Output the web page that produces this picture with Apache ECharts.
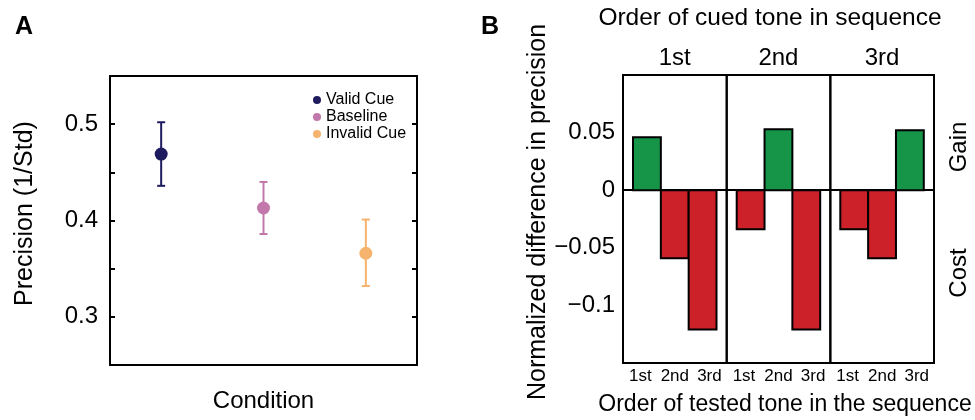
<!DOCTYPE html>
<html>
<head>
<meta charset="utf-8">
<script src="https://cdn.jsdelivr.net/npm/echarts@6/dist/echarts.min.js"></script>
<style>
  html, body { margin: 0; padding: 0; background: #fff; }
  #main { width: 975px; height: 420px; }
</style>
</head>
<body>
<div id="main"></div>
<script>
// panel A data
var conditions = ['Valid Cue', 'Baseline', 'Invalid Cue'];
var precisionMean = [0.469, 0.413, 0.366];
var precisionLow = [0.436, 0.386, 0.332];
var precisionHigh = [0.502, 0.440, 0.401];
var conditionColors = ['#1e1c5f', '#c378ab', '#f6b36d'];

// panel B data
var cuedOrder = ['1st', '2nd', '3rd'];
var testedOrder = ['1st', '2nd', '3rd'];
var diffCued1st = [0.046, -0.059, -0.121];
var diffCued2nd = [-0.034, 0.053, -0.121];
var diffCued3rd = [-0.034, -0.059, 0.052];
var diffByCued = [diffCued1st, diffCued2nd, diffCued3rd];

var FONT = 'Liberation Sans';
var GAIN = '#169448';
var COST = '#cc2128';
var LW = 2;

var myChart = echarts.init(document.getElementById('main'));

var panelLeft = [623, 726.7, 830.3];
var panelW = 103.7;

// grid 0 = A, 1..3 = B panels (frame), 4..6 = B bar areas
var grids = [{ left: 110, top: 76, width: 307, height: 289 }];
panelLeft.forEach(function (l) {
	grids.push({ left: l, top: 75, width: panelW, height: 288, show: true, borderColor: '#000', borderWidth: LW });
});
panelLeft.forEach(function (l) {
	grids.push({ left: l + 10, top: 75, width: 83.5, height: 288 });
});

var xAxes = [
	{
		type: 'category', gridIndex: 0, data: conditions,
		axisLine: { lineStyle: { color: '#000', width: LW } },
		axisTick: { inside: true, alignWithLabel: true, length: 6, lineStyle: { color: '#000', width: LW } },
		axisLabel: { show: false },
		name: 'Condition', nameLocation: 'middle', nameGap: 24,
		nameTextStyle: { fontSize: 24, color: '#000' }
	},
	{
		type: 'category', gridIndex: 0, data: conditions, position: 'top',
		axisLine: { lineStyle: { color: '#000', width: LW } },
		axisTick: { inside: true, alignWithLabel: true, length: 6, lineStyle: { color: '#000', width: LW } },
		axisLabel: { show: false }
	}
];
// tested tone labels under each panel (xAxis 2..4)
for (var i = 0; i < 3; i++) {
	xAxes.push({
		type: 'category', gridIndex: 1 + i, data: testedOrder, position: 'bottom',
		axisLine: { show: false, onZero: false }, axisTick: { show: false },
		axisLabel: { fontSize: 17, color: '#000', margin: 5, interval: 0 }
	});
}
// zero line of each panel (xAxis 5..7)
for (var i = 0; i < 3; i++) {
	xAxes.push({
		type: 'value', gridIndex: 1 + i, min: 0, max: 1, position: 'top',
		axisLine: { onZero: true, lineStyle: { color: '#000', width: LW } },
		axisTick: { show: false }, axisLabel: { show: false }, splitLine: { show: false }
	});
}
// bar axes (xAxis 8..10)
for (var i = 0; i < 3; i++) {
	xAxes.push({
		type: 'category', gridIndex: 4 + i, data: testedOrder, position: 'bottom',
		axisLine: { show: false, onZero: false }, axisTick: { show: false }, axisLabel: { show: false }
	});
}
// cued tone labels on top (xAxis 11..13)
for (var i = 0; i < 3; i++) {
	xAxes.push({
		type: 'category', gridIndex: 4 + i, data: [cuedOrder[i]], position: 'top',
		axisLine: { show: false, onZero: false }, axisTick: { show: false },
		axisLabel: { fontSize: 24, color: '#000', margin: 5 }
	});
}

var yAxes = [
	{
		type: 'value', gridIndex: 0, min: 0.25, max: 0.55, interval: 0.05,
		axisLine: { show: true, lineStyle: { color: '#000', width: LW } },
		axisTick: { show: true, inside: true, length: 5, lineStyle: { color: '#000', width: LW } },
		splitLine: { show: false },
		axisLabel: {
			fontSize: 24, color: '#000', margin: 12,
			formatter: function (v) {
				var k = Math.round(v * 100);
				return (k % 10 === 0 && k >= 30 && k <= 50) ? (k / 100).toFixed(1) : '';
			}
		},
		name: 'Precision (1/Std)', nameLocation: 'middle', nameRotate: 90, nameGap: 72,
		nameTextStyle: { fontSize: 25, color: '#000', padding: [0, 0, 0, 14] }
	},
	{
		type: 'value', gridIndex: 0, min: 0.25, max: 0.55, interval: 0.05, position: 'right',
		axisLine: { show: true, lineStyle: { color: '#000', width: LW } },
		axisTick: { show: true, inside: true, length: 5, lineStyle: { color: '#000', width: LW } },
		splitLine: { show: false }, axisLabel: { show: false }
	}
];
for (var i = 0; i < 3; i++) {
	yAxes.push({
		type: 'value', gridIndex: 1 + i, min: -0.15, max: 0.1, interval: 0.05,
		axisLine: { show: false }, axisTick: { show: false }, splitLine: { show: false },
		axisLabel: {
			show: i === 0, fontSize: 24, color: '#000', margin: 8,
			formatter: function (v) {
				var k = Math.round(v * 100);
				if (k < -10 || k > 5) return '';
				return String(k / 100).replace('-', '\u2212');
			}
		},
		name: i === 0 ? 'Normalized difference in precision' : '',
		nameLocation: 'middle', nameRotate: 90, nameGap: 72,
		nameTextStyle: { fontSize: 25, color: '#000', padding: [0, 0, 0, 14] }
	});
}
for (var i = 0; i < 3; i++) {
	yAxes.push({ type: 'value', gridIndex: 4 + i, min: -0.15, max: 0.1, show: false });
}

var series = [
	{
		type: 'custom', name: 'errorbar', xAxisIndex: 0, yAxisIndex: 0, z: 2,
		data: conditions.map(function (c, i) { return [i, precisionLow[i], precisionHigh[i]]; }),
		encode: { x: 0, y: [1, 2] },
		renderItem: function (params, api) {
			var x = api.value(0);
			var lo = api.coord([x, api.value(1)]);
			var hi = api.coord([x, api.value(2)]);
			var c = conditionColors[params.dataIndex];
			var st = { stroke: c, lineWidth: 2 };
			return {
				type: 'group',
				children: [
					{ type: 'line', shape: { x1: lo[0], y1: lo[1], x2: hi[0], y2: hi[1] }, style: st },
					{ type: 'line', shape: { x1: lo[0] - 4, y1: lo[1], x2: lo[0] + 4, y2: lo[1] }, style: st },
					{ type: 'line', shape: { x1: hi[0] - 4, y1: hi[1], x2: hi[0] + 4, y2: hi[1] }, style: st }
				]
			};
		}
	}
];
conditions.forEach(function (c, i) {
	series.push({
		type: 'scatter', name: c, xAxisIndex: 0, yAxisIndex: 0, z: 3,
		symbolSize: 13, itemStyle: { color: conditionColors[i], opacity: 1 },
		data: [[i, precisionMean[i]]]
	});
});
// bars: full band width, touching each other
diffByCued.forEach(function (vals, i) {
	series.push({
		type: 'custom', name: 'cued ' + cuedOrder[i], xAxisIndex: 8 + i, yAxisIndex: 5 + i, z: 3,
		data: vals.map(function (v, j) { return [j, v]; }),
		encode: { x: 0, y: 1 },
		renderItem: function (params, api) {
			var x = api.value(0), v = api.value(1);
			var base = api.coord([x, 0]);
			var end = api.coord([x, v]);
			var w = api.size([1, 0])[0];
			return {
				type: 'rect',
				shape: { x: base[0] - w / 2, y: Math.min(base[1], end[1]), width: w, height: Math.abs(end[1] - base[1]) },
				style: { fill: v >= 0 ? GAIN : COST, stroke: '#000', lineWidth: LW }
			};
		}
	});
});

var option = {
	backgroundColor: '#fff',
	animation: false,
	textStyle: { fontFamily: FONT },
	title: [
		{ text: 'A', left: 10, top: 10, textStyle: { fontSize: 25, fontWeight: 'bold', color: '#000', fontFamily: FONT } },
		{ text: 'B', left: 476, top: 10, textStyle: { fontSize: 25, fontWeight: 'bold', color: '#000', fontFamily: FONT } }
	],
	legend: {
		data: conditions, orient: 'vertical', left: 313, top: 92, padding: 0,
		icon: 'circle', itemWidth: 8, itemHeight: 8, itemGap: 1,
		textStyle: { fontSize: 16, lineHeight: 16, color: '#000', fontFamily: FONT }
	},
	grid: grids,
	xAxis: xAxes,
	yAxis: yAxes,
	series: series,
	graphic: [
		{ type: 'text', x: 770, y: 18, style: { text: 'Order of cued tone in sequence', fontSize: 24.5, fontFamily: FONT, fill: '#000', align: 'center', verticalAlign: 'middle' } },
		{ type: 'text', x: 785, y: 405, style: { text: 'Order of tested tone in the sequence', fontSize: 23, fontFamily: FONT, fill: '#000', align: 'center', verticalAlign: 'middle' } },
		{ type: 'text', x: 959, y: 147, rotation: Math.PI / 2, style: { text: 'Gain', fontSize: 24, fontFamily: FONT, fill: '#000', align: 'center', verticalAlign: 'middle' } },
		{ type: 'text', x: 959, y: 273, rotation: Math.PI / 2, style: { text: 'Cost', fontSize: 24, fontFamily: FONT, fill: '#000', align: 'center', verticalAlign: 'middle' } }
	]
};
myChart.setOption(option, true);
</script>
</body>
</html>
